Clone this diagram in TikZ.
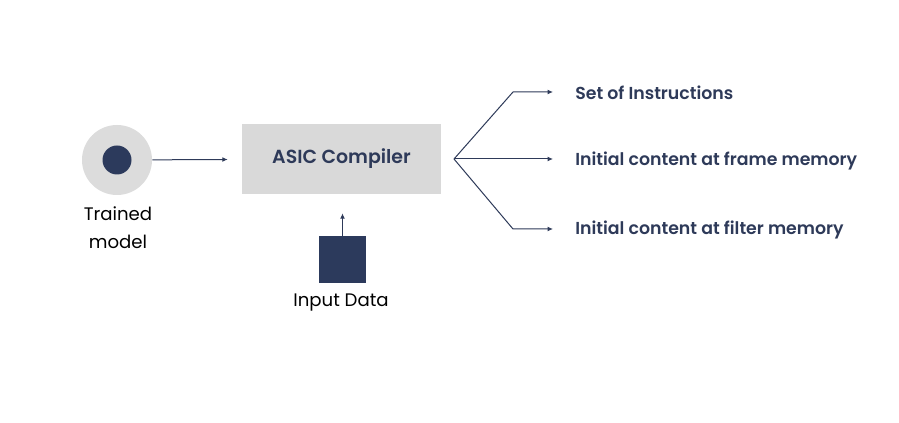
\documentclass[tikz,border=0pt]{standalone}
\usepackage{fontspec}
\setmainfont{Poppins}[BoldFont={Poppins SemiBold}]
\usetikzlibrary{arrows.meta}
\definecolor{Navy}{HTML}{2C3A5C}
\definecolor{Ink}{HTML}{2E3A59}
\definecolor{BoxGrey}{HTML}{D9D9D9}
\definecolor{RingGrey}{HTML}{DCDCDC}

\begin{document}
\begin{tikzpicture}[x=.75pt,y=-.75pt,>={Latex[length=4pt,width=3.6pt]},every node/.style={text=black,font=\fontsize{13.6}{21}\selectfont},
  lbl/.style={anchor=west,text=Ink,inner sep=0pt,font=\fontsize{13}{15}\selectfont\bfseries},
  link/.style={->,Ink,line width=.75pt}]
\useasboundingbox (0,0) rectangle (899,423); \fill[white] (0,0) rectangle (899,423);
\node[circle,fill=RingGrey,inner sep=0pt,minimum size=70*.75pt] (model) at (117,160){}; \fill[Navy] (model) circle (14.5);
\node[align=center,anchor=north] (modeltxt) at (118,202){Trained\\model};
\node[fill=BoxGrey,minimum width=199*.75pt,minimum height=70*.75pt,text=Ink,font=\fontsize{14.2}{16}\selectfont\bfseries] (asic) at (341.5,159){ASIC Compiler};
\node[fill=Navy,inner sep=0pt,minimum size=47*.75pt] (input) at (342.5,260){}; \node[anchor=north] (inputtxt) at (341,289){Input Data};
\draw[link,shorten >=14*.75pt] (model) -- (asic); \draw[link,shorten >=19*.75pt] (input) -- (input|-asic.south);
\coordinate (split) at (454,159); \coordinate (upper) at (513,92); \coordinate (lower) at (513,229);
\node[lbl] (instr) at (575,92.5){Set of Instructions}; \node[lbl] (frame) at (575,160.5){Initial content at frame memory}; \node[lbl] (filter) at (575,229.5){Initial content at filter memory};
\draw[link,shorten >=22*.75pt] (split) -- (upper) -- (instr.west|-upper); \draw[link,shorten >=22*.75pt] (split) -- (split-|frame.west); \draw[link,shorten >=22*.75pt] (split) -- (lower) -- (filter.west|-lower);
\end{tikzpicture}
\end{document}
